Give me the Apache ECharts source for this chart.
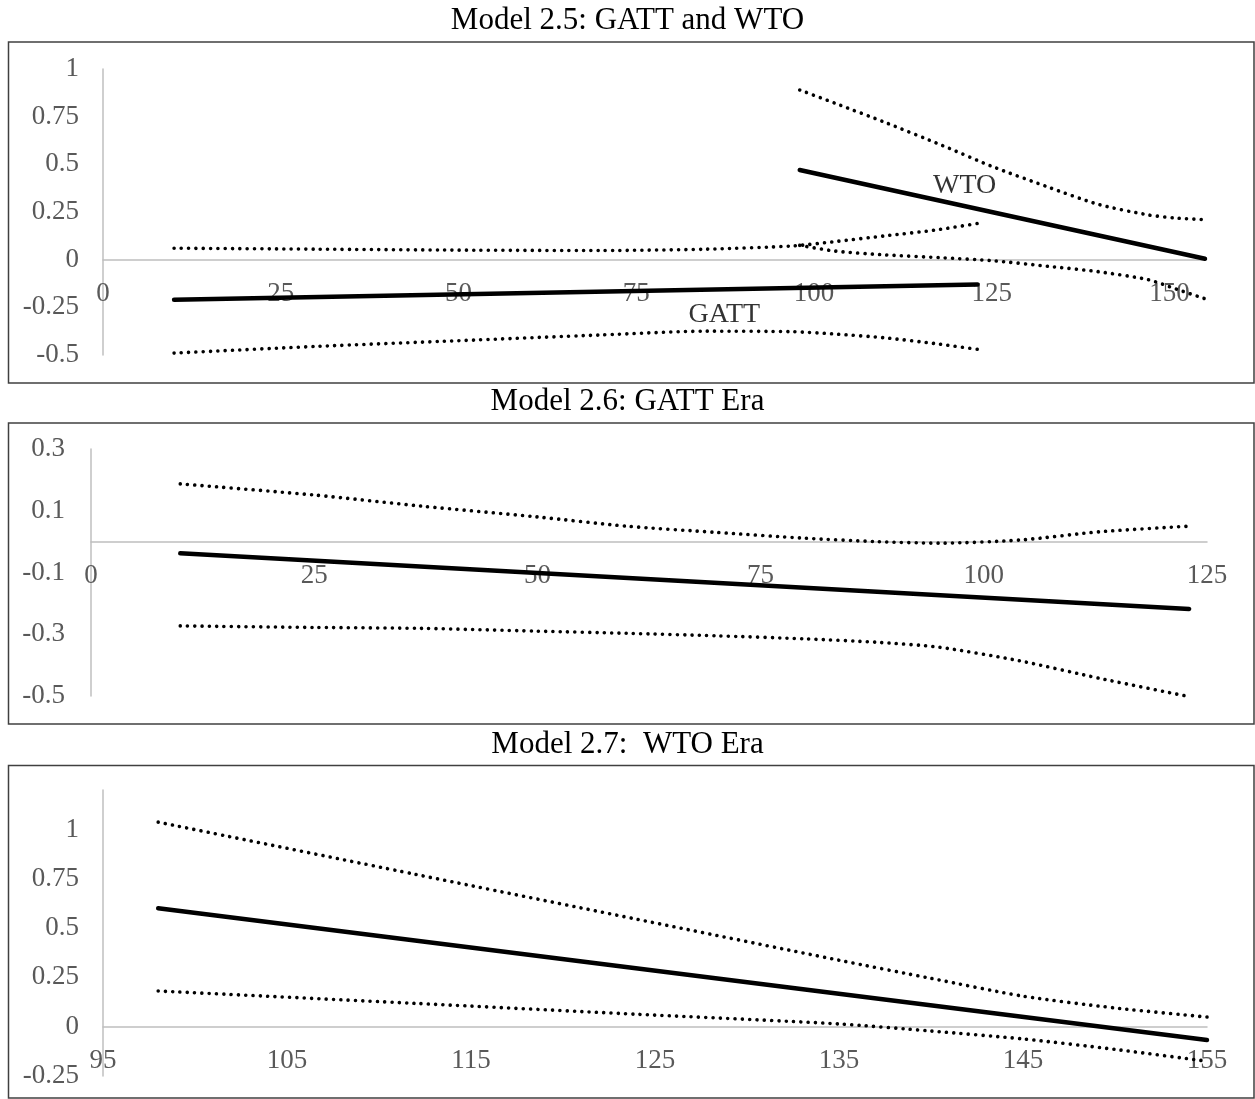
<!DOCTYPE html>
<html>
<head>
<meta charset="utf-8">
<title>Models 2.5 - 2.7</title>
<script src="https://cdn.jsdelivr.net/npm/echarts@6/dist/echarts.min.js"></script>
<style>
  html, body { margin: 0; padding: 0; background: #fff; }
  #chart { width: 1255px; height: 1099px; }
</style>
</head>
<body>
<div id="chart"></div>
<script>
// Model 2.5: GATT and WTO
const m25GattMeanX = [10, 123]
const m25GattMeanY = [-0.21, -0.13]
const m25GattCiX = [10, 30, 50, 70, 85, 97, 103, 110, 117, 123]
const m25GattUpper = [0.06, 0.055, 0.05, 0.048, 0.055, 0.072, 0.095, 0.125, 0.155, 0.19]
const m25GattLower = [-0.49, -0.455, -0.425, -0.395, -0.375, -0.378, -0.39, -0.41, -0.44, -0.47]
const m25WtoMeanX = [98, 155]
const m25WtoMeanY = [0.47, 0.005]
const m25WtoCiX = [98, 103, 110, 118, 125, 133, 140, 147, 151, 155]
const m25WtoUpper = [0.89, 0.82, 0.72, 0.6, 0.49, 0.38, 0.29, 0.235, 0.218, 0.21]
const m25WtoLower = [0.075, 0.045, 0.025, 0.01, -0.005, -0.035, -0.063, -0.105, -0.155, -0.205]
const m25LabelNames = ['GATT', 'WTO']
const m25LabelX = [87.4, 121.2]
const m25LabelY = [-0.29, 0.39]

// Model 2.6: GATT Era
const m26MeanX = [10, 123]
const m26MeanY = [-0.038, -0.218]
const m26CiX = [10, 25, 37, 50, 60, 70, 80, 88, 95, 104, 113, 123]
const m26Upper = [0.187, 0.151, 0.115, 0.08, 0.05, 0.03, 0.011, 0.0, -0.005, 0.005, 0.032, 0.05]
const m26Lower = [-0.273, -0.278, -0.281, -0.29, -0.297, -0.305, -0.315, -0.326, -0.342, -0.386, -0.443, -0.502]

// Model 2.7: WTO Era
const m27MeanX = [98, 155]
const m27MeanY = [0.6, -0.067]
const m27CiX = [98, 112, 124, 135, 140, 145, 150, 155]
const m27Upper = [1.037, 0.772, 0.545, 0.337, 0.245, 0.155, 0.095, 0.049]
const m27Lower = [0.181, 0.118, 0.063, 0.014, -0.022, -0.062, -0.115, -0.175]

const titles = ['Model 2.5: GATT and WTO', 'Model 2.6: GATT Era', 'Model 2.7:  WTO Era']

const fontFamily = '"Liberation Serif", "Times New Roman", serif'
const tickColor = '#595959'
const axisColor = '#BFBFBF'

const grids = [
  { left: 103, top: 69, width: 1102, height: 286 },
  { left: 91, top: 449, width: 1116, height: 247 },
  { left: 103, top: 790, width: 1104, height: 286 }
]
const yRanges = [[-0.5, 1], [-0.5, 0.3], [-0.25, 1.2]]

const zip = (xs, ys) => xs.map((x, i) => [x, ys[i]])
const fmt = v => String(Math.round(v * 100) / 100)

// the x axis sits on y = 0 with its labels just under it
const makeX = (gridIndex, min, max, interval, showMaxLabel) => {
  const [ymin, ymax] = yRanges[gridIndex]
  const zeroOffset = -grids[gridIndex].height * (0 - ymin) / (ymax - ymin)
  return {
    type: 'value',
    gridIndex,
    min,
    max,
    interval,
    position: 'bottom',
    offset: zeroOffset,
    axisLine: { onZero: false, lineStyle: { color: axisColor, width: 1.5 } },
    axisTick: { show: false },
    splitLine: { show: false },
    axisLabel: {
      color: tickColor,
      fontSize: 27,
      fontFamily,
      margin: 21,
      showMaxLabel,
      formatter: fmt
    }
  }
}

const makeY = (gridIndex, interval, showMaxLabel, margin) => ({
  type: 'value',
  gridIndex,
  min: yRanges[gridIndex][0],
  max: yRanges[gridIndex][1],
  interval,
  axisLine: { show: true, onZero: false, lineStyle: { color: axisColor, width: 1.5 } },
  axisTick: { show: false },
  splitLine: { show: false },
  axisLabel: {
    color: tickColor,
    fontSize: 27,
    fontFamily,
    margin,
    showMaxLabel,
    formatter: fmt
  }
})

const meanLine = (idx, xs, ys) => ({
  type: 'line',
  xAxisIndex: idx,
  yAxisIndex: idx,
  data: zip(xs, ys),
  showSymbol: false,
  lineStyle: { color: '#000', width: 4.5, cap: 'round' },
  z: 3
})

const ciLine = (idx, xs, ys) => ({
  type: 'line',
  xAxisIndex: idx,
  yAxisIndex: idx,
  data: zip(xs, ys),
  showSymbol: false,
  smooth: 0.25,
  lineStyle: { color: '#000', width: 3.6, type: [0.01, 7.3], cap: 'round' },
  z: 2
})

const chart = echarts.init(document.getElementById('chart'))

const option = {
  animation: false,
  backgroundColor: '#fff',
  title: titles.map((t, i) => ({
    text: t,
    left: 'center',
    top: [5, 386, 729][i],
    padding: 0,
    textStyle: { fontSize: 31, fontWeight: 'normal', color: '#000', fontFamily }
  })),
  graphic: [
    { type: 'rect', silent: true, shape: { x: 8.5, y: 42, width: 1245.5, height: 341 }, style: { fill: 'none', stroke: '#404040', lineWidth: 1.5 } },
    { type: 'rect', silent: true, shape: { x: 8.5, y: 423, width: 1245.5, height: 301 }, style: { fill: 'none', stroke: '#404040', lineWidth: 1.5 } },
    { type: 'rect', silent: true, shape: { x: 8.5, y: 765.5, width: 1245.5, height: 332.5 }, style: { fill: 'none', stroke: '#404040', lineWidth: 1.5 } }
  ],
  grid: grids,
  xAxis: [
    makeX(0, 0, 155, 25, false),
    makeX(1, 0, 125, 25, true),
    makeX(2, 95, 155, 10, true)
  ],
  yAxis: [
    makeY(0, 0.25, true, 24),
    makeY(1, 0.2, true, 26),
    makeY(2, 0.25, false, 24)
  ],
  series: [
    ciLine(0, m25GattCiX, m25GattUpper),
    ciLine(0, m25GattCiX, m25GattLower),
    ciLine(0, m25WtoCiX, m25WtoUpper),
    ciLine(0, m25WtoCiX, m25WtoLower),
    meanLine(0, m25GattMeanX, m25GattMeanY),
    meanLine(0, m25WtoMeanX, m25WtoMeanY),
    {
      type: 'scatter',
      xAxisIndex: 0,
      yAxisIndex: 0,
      symbolSize: 0,
      silent: true,
      data: m25LabelNames.map((n, i) => ({ name: n, value: [m25LabelX[i], m25LabelY[i]] })),
      label: {
        show: true,
        position: 'inside',
        formatter: '{b}',
        color: '#000',
        fontSize: 28,
        fontFamily
      },
      z: 4
    },
    ciLine(1, m26CiX, m26Upper),
    ciLine(1, m26CiX, m26Lower),
    meanLine(1, m26MeanX, m26MeanY),
    ciLine(2, m27CiX, m27Upper),
    ciLine(2, m27CiX, m27Lower),
    meanLine(2, m27MeanX, m27MeanY)
  ]
}

chart.setOption(option)
</script>
</body>
</html>
